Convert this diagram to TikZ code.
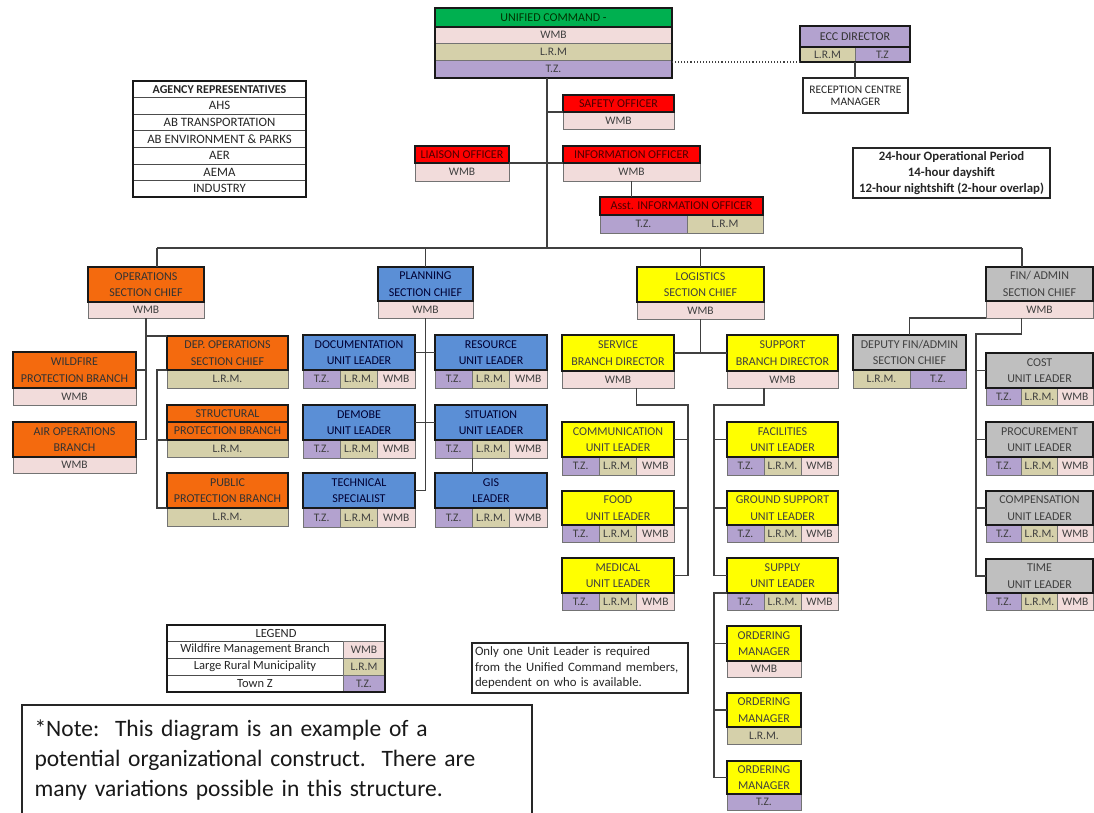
\documentclass[tikz,border=0pt]{standalone}
\usepackage{fontspec}
\setmainfont{Carlito}
\usetikzlibrary{calc}
\definecolor{wmbc}{HTML}{F2DCDB}
\definecolor{lrmc}{HTML}{D5D0AA}
\definecolor{tzc}{HTML}{B3A2CF}
\definecolor{gre}{HTML}{00B050}
\definecolor{redc}{HTML}{FF0000}
\definecolor{orc}{HTML}{F46A0E}
\definecolor{blc}{HTML}{5B8FD6}
\definecolor{yec}{HTML}{FFFF00}
\definecolor{grc}{HTML}{BFBFBF}
\definecolor{linec}{HTML}{404040}
\newcommand{\txtW}{WMB}
\newcommand{\txtL}{L.R.M.}
\newcommand{\txtT}{T.Z.}
\newcommand{\cellnode}[7]{\node[#2, minimum width={(#5-#3)*1pt}, minimum height={(#6-#4)*1pt}] (#1) at ({(#3+#5)/2},{(#4+#6)/2}) {#7};}
\newcommand{\boxone}[9]{%
 \cellnode{#1r}{row#9}{#3}{#6}{#5}{#7}{\csname txt#9\endcsname}
 \cellnode{#1}{hdr,#2}{#3}{#4}{#5}{#6}{#8}}
\newcommand{\boxthree}[8]{%
 \pgfmathsetmacro\xa{#3+(#5-#3)/3}\pgfmathsetmacro\xb{#3+2*(#5-#3)/3}%
 \cellnode{#1t}{rowT}{#3}{#6}{\xa}{#7}{T.Z.}
 \cellnode{#1l}{rowL}{\xa}{#6}{\xb}{#7}{L.R.M.}
 \cellnode{#1w}{rowW}{\xb}{#6}{#5}{#7}{WMB}
 \cellnode{#1}{hdr,#2}{#3}{#4}{#5}{#6}{#8}}
\begin{document}
\begin{tikzpicture}[x=1pt,y=-1pt,
 cellbase/.style={draw=black!55, line width=0.7pt, inner sep=0pt, outer sep=0pt, align=center, text=black!75, font=\fontsize{11.5}{12}\selectfont},
 rowW/.style={cellbase, fill=wmbc},
 rowL/.style={cellbase, fill=lrmc},
 rowT/.style={cellbase, fill=tzc},
 hdr/.style={cellbase, draw=black!90, line width=1.5pt, font=\fontsize{12}{16.5}\selectfont},
 hred/.style={fill=redc, text=red!30!black},
 hor/.style={fill=orc, text=black!80},
 hbl/.style={fill=blc, text=blue!20!black},
 hye/.style={fill=yec, text=black!75},
 hgr/.style={fill=grc, text=black!75},
 hgn/.style={fill=gre, text=green!20!black},
 hpu/.style={fill=tzc, text=black!80},
 agc/.style={cellbase, fill=white, draw=black!70, font=\fontsize{12.8}{13}\selectfont, text=black!85},
 lgc/.style={cellbase, fill=white, draw=black!70, font=\fontsize{12.5}{13}\selectfont, text=black!85},
 plainbox/.style={cellbase, fill=white, draw=black!85, line width=1.3pt, text=black!85},
 conn/.style={draw=linec, line width=1.1pt},
 frame/.style={draw=black!90, line width=1.5pt}]
\useasboundingbox (0,0) rectangle (1094,812);
\fill[white] (0,0) rectangle (1094,812);

\coordinate (busL) at (157,248);
\coordinate (busR) at (1022,248);
\coordinate (trunk) at (547,78);
\coordinate (svx) at (688,405);
\coordinate (spx) at (714,405);
\coordinate (fvx) at (976,334);

% ---------- Unified command ----------
\cellnode{ucw}{rowW}{435}{27}{672}{43}{WMB}
\cellnode{ucl}{rowL}{435}{43}{672}{60}{L.R.M}
\cellnode{uct}{rowT}{435}{60}{672}{78}{T.Z.}
\cellnode{uc}{hdr,hgn}{435}{8}{672}{27}{UNIFIED COMMAND -}
\draw[frame] (uc.north west) rectangle (uct.south east);

% ---------- ECC ----------
\cellnode{eccl}{rowL}{800}{47}{855}{62}{L.R.M}
\cellnode{ecct}{rowT}{855}{47}{910}{62}{T.Z}
\cellnode{ecc}{hdr,hpu}{800}{26}{910}{47}{ECC DIRECTOR}
\draw[frame] (ecc.north west) rectangle (ecct.south east);
\cellnode{rec}{plainbox}{803}{78}{908}{113}{RECEPTION CENTRE\\MANAGER}
\draw[conn, dotted] (eccl.south west) -- (eccl.south west -| uct.east);
\draw[conn] (eccl.south east) -- (eccl.south east |- rec.north);

% ---------- Agency representatives ----------
\cellnode{ag0}{agc,font=\fontsize{12}{13}\selectfont\bfseries}{133}{81}{306}{97.5}{AGENCY REPRESENTATIVES}
\cellnode{ag1}{agc}{133}{97.5}{306}{114}{AHS}
\cellnode{ag2}{agc}{133}{114}{306}{130.5}{AB TRANSPORTATION}
\cellnode{ag3}{agc}{133}{130.5}{306}{147}{AB ENVIRONMENT \& PARKS}
\cellnode{ag4}{agc}{133}{147}{306}{164}{AER}
\cellnode{ag5}{agc}{133}{164}{306}{180.5}{AEMA}
\cellnode{ag6}{agc}{133}{180.5}{306}{197}{INDUSTRY}
\draw[frame] (ag0.north west) rectangle (ag6.south east);

% ---------- Command staff ----------
\draw[conn] (trunk) -- (trunk |- busL);
\boxone{saf}{hred}{563}{95}{674}{112}{129}{SAFETY OFFICER}{W}
\boxone{lia}{hred}{415}{146}{509}{163}{181}{LIAISON OFFICER}{W}
\boxone{inf}{hred}{563}{146}{700}{163}{181}{INFORMATION OFFICER}{W}
\cellnode{asstt}{rowT}{600}{215}{687}{233}{T.Z.}
\cellnode{asstl}{rowL}{687}{215}{763}{233}{L.R.M}
\cellnode{asst}{hdr,hred}{600}{197}{763}{215}{Asst. INFORMATION OFFICER}
\draw[conn] (saf.south west) -- (saf.south west -| trunk);
\draw[conn] (lia.south east) -- (inf.south west);
\draw[conn] (infr.south) -- (infr.south |- asst.north);

% ---------- 24 hour ----------
\cellnode{period}{plainbox, line width=1.8pt, font=\fontsize{12.8}{16}\selectfont\bfseries}{853}{148}{1050}{198}{24-hour Operational Period\\14-hour dayshift\\12-hour nightshift (2-hour overlap)}

% ---------- bus ----------
\draw[conn] (busL) -- (busR);

% ---------- Operations ----------
\boxone{ops}{hor}{88}{267}{204}{302}{318}{OPERATIONS\\SECTION CHIEF}{W}
\boxone{dops}{hor}{167}{336}{288}{370}{388}{DEP. OPERATIONS\\SECTION CHIEF}{L}
\boxone{wild}{hor}{13}{352}{136}{388}{405}{WILDFIRE\\PROTECTION BRANCH}{W}
\boxone{air}{hor}{13}{422}{136}{457}{473}{AIR OPERATIONS\\BRANCH}{W}
\cellnode{strr}{rowL}{167}{440}{288}{457}{L.R.M.}
\cellnode{strb}{hdr,hor}{167}{422}{288}{440}{PROTECTION BRANCH}
\cellnode{str}{hdr,hor}{167}{405}{288}{422}{STRUCTURAL}
\boxone{pub}{hor}{167}{473}{288}{508}{526}{PUBLIC\\PROTECTION BRANCH}{L}
\draw[conn] (busL) -- (busL |- ops.north);
\draw[conn] (opsr.south) -- (opsr.south |- air.east);
\draw[conn] (opsr.south |- dops.north) -- (dops.north west);
\draw[conn] (wild.east) -- (wild.east -| opsr.south);
\draw[conn] (air.east) -- (air.east -| opsr.south);
\draw[conn] (dops.south west) -- ++(-10,0) |- (pub.south west);
\draw[conn] (strb.south west) -- ++(-10,0);

% ---------- Planning ----------
\boxone{plan}{hbl}{378}{267}{473}{301}{318}{PLANNING\\SECTION CHIEF}{W}
\boxthree{doc}{hbl}{303}{335}{415}{370}{388}{DOCUMENTATION\\UNIT LEADER}
\boxthree{res}{hbl}{435}{335}{547}{370}{388}{RESOURCE\\UNIT LEADER}
\boxthree{dem}{hbl}{303}{405}{415}{440}{458}{DEMOBE\\UNIT LEADER}
\boxthree{sit}{hbl}{435}{405}{547}{440}{458}{SITUATION\\UNIT LEADER}
\boxthree{tec}{hbl}{303}{473}{415}{508}{527}{TECHNICAL\\SPECIALIST}
\boxthree{gis}{hbl}{435}{473}{547}{508}{527}{GIS\\LEADER}
\draw[conn] (plan.north) -- (plan.north |- busL);
\draw[conn] (planr.south) -- (planr.south |- tec.east) -- (tec.east);
\draw[conn] (doc.east) -- (res.west);
\draw[conn] (dem.east) -- (sit.west);
\draw[conn] (sitl.south west) -- (sitl.south west |- gis.north);

% ---------- Logistics ----------
\boxone{log}{hye}{637}{267}{764}{302}{319}{LOGISTICS\\SECTION CHIEF}{W}
\boxone{ser}{hye}{562}{335}{674}{371}{388}{SERVICE\\BRANCH DIRECTOR}{W}
\boxone{sup}{hye}{727}{335}{838}{371}{388}{SUPPORT\\BRANCH DIRECTOR}{W}
\boxthree{com}{hye}{562}{422}{674}{457}{475}{COMMUNICATION\\UNIT LEADER}
\boxthree{food}{hye}{562}{491}{674}{525}{542}{FOOD\\UNIT LEADER}
\boxthree{med}{hye}{562}{558}{674}{593}{610}{MEDICAL\\UNIT LEADER}
\boxthree{fac}{hye}{727}{422}{838}{457}{475}{FACILITIES\\UNIT LEADER}
\boxthree{gsu}{hye}{727}{491}{838}{525}{542}{GROUND SUPPORT\\UNIT LEADER}
\boxthree{sply}{hye}{727}{558}{838}{593}{610}{SUPPLY\\UNIT LEADER}
\boxone{oma}{hye}{727}{626}{801}{661}{677}{ORDERING\\MANAGER}{W}
\boxone{omb}{hye}{727}{693}{801}{727}{744}{ORDERING\\MANAGER}{L}
\boxone{omc}{hye}{727}{761}{801}{794}{810}{ORDERING\\MANAGER}{T}
\draw[conn] (log.north) -- (log.north |- busL);
\draw[conn] (logr.south) -- (logr.south |- ser.east);
\draw[conn] (ser.east) -- (sup.west);
\draw[conn] (serr.south -| coml.east) |- (svx) -- (svx |- med.east) -- (med.east);
\draw[conn] (com.east) -- (com.east -| svx);
\draw[conn] (food.east) -- (food.east -| svx);
\draw[conn] (supr.south -| facl.west) |- (spx) -- (spx |- sply.west) -- (sply.west);
\draw[conn] (fac.west) -- (fac.west -| spx);
\draw[conn] (gsu.west) -- (gsu.west -| spx);
\draw[conn] (sply.south west) -- (sply.south west -| spx) |- (omc.west);
\draw[conn] (oma.west) -- (oma.west -| spx);
\draw[conn] (omb.west) -- (omb.west -| spx);

% ---------- Finance ----------
\boxone{fin}{hgr}{986}{267}{1093}{301}{318}{FIN/ ADMIN\\SECTION CHIEF}{W}
\cellnode{dfl}{rowL}{853}{370}{910}{388}{L.R.M.}
\cellnode{dft}{rowT}{910}{370}{966}{388}{T.Z.}
\cellnode{dfin}{hdr,hgr}{853}{335}{966}{370}{DEPUTY FIN/ADMIN\\SECTION CHIEF}
\boxthree{cost}{hgr}{986}{353}{1093}{388}{405}{COST\\UNIT LEADER}
\boxthree{proc}{hgr}{986}{422}{1093}{457}{475}{PROCUREMENT\\UNIT LEADER}
\boxthree{comp}{hgr}{986}{491}{1093}{525}{542}{COMPENSATION\\UNIT LEADER}
\boxthree{time}{hgr}{986}{559}{1093}{593}{610}{TIME\\UNIT LEADER}
\draw[conn] (busR) -- (busR |- fin.north);
\draw[conn] (dfin.north) |- (finr.south west);
\draw[conn] (finr.south -| costt.east) |- (fvx) -- (fvx |- time.west) -- (time.west);
\draw[conn] (cost.west) -- (cost.west -| fvx);
\draw[conn] (proc.west) -- (proc.west -| fvx);
\draw[conn] (comp.west) -- (comp.west -| fvx);

% ---------- Legend ----------
\cellnode{leg}{lgc}{167}{625}{385}{641}{LEGEND}
\cellnode{lga}{lgc}{167}{641}{343}{658}{Wildfire Management Branch}
\cellnode{lgac}{rowW}{343}{641}{385}{658}{WMB}
\cellnode{lgb}{lgc}{167}{658}{343}{675}{Large Rural Municipality}
\cellnode{lgbc}{rowL}{343}{658}{385}{675}{L.R.M}
\cellnode{lgc}{lgc}{167}{675}{343}{692}{Town Z}
\cellnode{lgcc}{rowT}{343}{675}{385}{692}{T.Z.}
\draw[frame] (leg.north west) rectangle (lgcc.south east);

% ---------- notes ----------
\cellnode{only}{plainbox, align=left, text width=210pt, font=\fontsize{12.8}{15.5}\selectfont}{472}{643}{688}{693}{Only one Unit Leader is required\\from the Unified Command members,\\dependent on who is available.}
\cellnode{note}{plainbox, align=left, text width=485pt, font=\fontsize{23.5}{30}\selectfont, text=black!90}{22}{705}{532}{815}{*Note:\ \ This diagram is an example of a\\potential organizational construct.\ \ There are\\many variations possible in this structure.}
\end{tikzpicture}
\end{document}
